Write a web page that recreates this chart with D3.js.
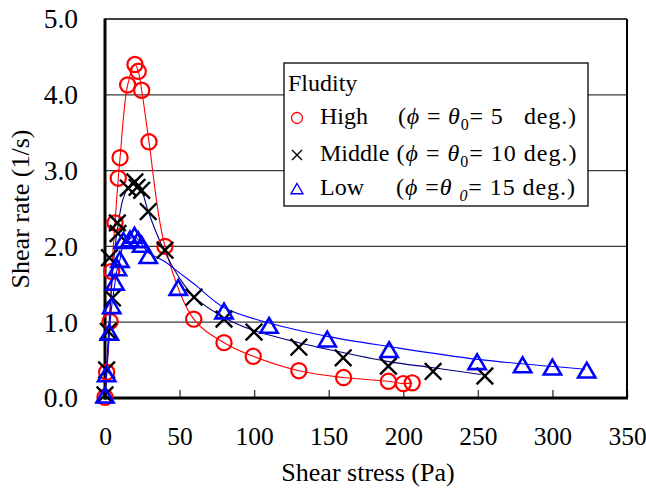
<!DOCTYPE html>
<html>
<head>
<meta charset="utf-8">
<script src="https://cdn.jsdelivr.net/npm/d3@7"></script>
<style>
  body{margin:0;background:#fff;}
  svg{display:block;}
  svg, svg text, svg tspan{font-family:'Times New Roman','Liberation Serif',Tinos,serif;}
  text{white-space:pre;}
</style>
</head>
<body>
<div id="chart"></div>
<script>
// ---- data ----
const highX = [0, 1.1, 3.4, 4.5, 6.7, 8.9, 10.1, 15.2, 20.1, 22.3, 24.6, 29.5, 40.2, 59.5, 79.8, 99.4, 130, 160, 190, 200, 206];
const highY = [0.01, 0.34, 1.01, 1.67, 2.31, 2.90, 3.17, 4.13, 4.40, 4.31, 4.06, 3.38, 2.00, 1.04, 0.73, 0.55, 0.36, 0.27, 0.22, 0.19, 0.20];

const midX = [0, 1.1, 2.2, 3.0, 5.0, 8.7, 8.3, 15.6, 20.0, 21.5, 24.6, 29.0, 40.2, 59.7, 79.8, 99.9, 130, 159.7, 190, 220, 254.7];
const midY = [0.04, 0.37, 0.88, 1.85, 1.32, 2.17, 2.31, 2.77, 2.85, 2.78, 2.74, 2.46, 1.95, 1.33, 1.04, 0.87, 0.67, 0.53, 0.42, 0.35, 0.29];

const lowX = [0, 1.1, 2.9, 4.5, 6.7, 8.3, 10, 12.3, 16.8, 19.8, 22.3, 24.6, 29, 49.1, 79.8, 110, 149, 190.5, 249.5, 280, 300, 323];
const lowY = [0.03, 0.31, 0.86, 1.21, 1.52, 1.71, 1.82, 2.07, 2.09, 2.14, 2.08, 2.02, 1.87, 1.45, 1.14, 0.95, 0.77, 0.63, 0.47, 0.43, 0.40, 0.36];

// drawn curves (they are not exactly through the markers)
const midFitX = [0, 1, 2.5, 4, 6, 8.5, 12, 15.6, 19, 22, 24.6, 29, 40, 50, 60, 80, 100, 130, 150, 190, 220, 252];
const midFitY = [0.0, 0.35, 0.92, 1.35, 1.85, 2.25, 2.62, 2.78, 2.85, 2.82, 2.74, 2.46, 1.93, 1.58, 1.33, 1.06, 0.89, 0.73, 0.64, 0.48, 0.40, 0.31];
const lowFitX = [0, 1.1, 2.9, 4.5, 6.7, 8.3, 10, 12.3, 16.8, 19.8, 24.6, 29, 40, 50, 60, 80, 110, 150, 190, 250, 322];
const lowFitY = [0.03, 0.31, 0.86, 1.21, 1.52, 1.71, 1.82, 2.02, 2.10, 2.13, 2.03, 1.92, 1.80, 1.65, 1.50, 1.19, 0.99, 0.81, 0.68, 0.51, 0.38];

const xTicks = [0, 50, 100, 150, 200, 250, 300, 350];
const yTicks = [0, 1, 2, 3, 4, 5];

const zip = (xs, ys) => xs.map((v, i) => [v, ys[i]]);

const W = 646, H = 498;
const svg = d3.select('#chart').append('svg').attr('width', W).attr('height', H);

const x = d3.scaleLinear().domain([0, 350]).range([105, 627]);
const y = d3.scaleLinear().domain([0, 5]).range([398, 19]);

// grid
svg.append('g').selectAll('line').data(yTicks.filter(d => d > 0 && d < 5)).join('line')
  .attr('x1', x(0)).attr('x2', x(350)).attr('y1', d => y(d)).attr('y2', d => y(d))
  .attr('stroke', '#3a3a3a').attr('stroke-width', 1.3);

// x axis ticks (inside) + labels
const gx = svg.append('g').attr('transform', `translate(0,${y(0)})`)
  .call(d3.axisBottom(x).tickValues(xTicks).tickSizeInner(-8).tickSizeOuter(0).tickPadding(29).tickFormat(d => d))
  .attr('font-family', null).attr('font-size', null);
gx.select('.domain').remove();
gx.selectAll('line').attr('stroke', '#444').attr('stroke-width', 1.4);
gx.selectAll('text').attr('font-size', 25.5).attr('fill', '#000');

const gy = svg.append('g').attr('transform', `translate(${x(0)},0)`)
  .call(d3.axisLeft(y).tickValues(yTicks).tickSize(0).tickPadding(27).tickFormat(d3.format('.1f')))
  .attr('font-family', null).attr('font-size', null);
gy.select('.domain').remove();
gy.selectAll('text').attr('font-size', 27.5).attr('fill', '#000');

// frame
svg.append('line').attr('x1', x(0)).attr('x2', x(350)).attr('y1', y(5)).attr('y2', y(5)).attr('stroke', '#000').attr('stroke-width', 1.3);
svg.append('line').attr('x1', x(350)).attr('x2', x(350)).attr('y1', y(5)).attr('y2', y(0)).attr('stroke', '#000').attr('stroke-width', 2);
svg.append('line').attr('x1', x(0)).attr('x2', x(0)).attr('y1', y(5) - 0.5).attr('y2', y(0) + 1.5).attr('stroke', '#000').attr('stroke-width', 3);
svg.append('line').attr('x1', x(0) - 1.5).attr('x2', x(350) + 1).attr('y1', y(0)).attr('y2', y(0)).attr('stroke', '#000').attr('stroke-width', 3);

// curves
const lineFn = d3.line().x(d => x(d[0])).y(d => y(d[1])).curve(d3.curveCatmullRom.alpha(0.5));
svg.append('path').datum(zip(highX, highY)).attr('d', lineFn).attr('fill', 'none').attr('stroke', '#ff0000').attr('stroke-width', 1.1);
svg.append('path').datum(zip(midFitX, midFitY)).attr('d', lineFn).attr('fill', 'none').attr('stroke', '#000080').attr('stroke-width', 1.1);
svg.append('path').datum(zip(lowFitX, lowFitY)).attr('d', lineFn).attr('fill', 'none').attr('stroke', '#0000ff').attr('stroke-width', 1.1);

// markers
const crossPath = s => `M${-s},${-s}L${s},${s}M${-s},${s}L${s},${-s}`;
const triPath = s => `M0,${-s}L${s * 1.08},${s * 0.85}L${-s * 1.08},${s * 0.85}Z`;

svg.append('g').selectAll('circle').data(zip(highX, highY)).join('circle')
  .attr('cx', d => x(d[0])).attr('cy', d => y(d[1])).attr('r', 7.6)
  .attr('fill', 'none').attr('stroke', '#ff0000').attr('stroke-width', 2.2);

svg.append('g').selectAll('path').data(zip(midX, midY)).join('path')
  .attr('transform', d => `translate(${x(d[0])},${y(d[1])})`).attr('d', crossPath(8.3))
  .attr('fill', 'none').attr('stroke', '#000').attr('stroke-width', 2.4);

svg.append('g').selectAll('path').data(zip(lowX, lowY)).join('path')
  .attr('transform', d => `translate(${x(d[0])},${y(d[1])})`).attr('d', triPath(8))
  .attr('fill', 'none').attr('stroke', '#0000ff').attr('stroke-width', 2.6).attr('stroke-linejoin', 'miter');

// axis titles
svg.append('text').attr('transform', 'translate(29,209) rotate(-90)').attr('text-anchor', 'middle')
  .attr('font-size', 26).text('Shear rate (1/s)');
svg.append('text').attr('x', 368).attr('y', 481).attr('text-anchor', 'middle')
  .attr('font-size', 26).text('Shear stress (Pa)');

// legend
const leg = svg.append('g');
leg.append('rect').attr('x', 284).attr('y', 63).attr('width', 304).attr('height', 143)
  .attr('fill', '#fff').attr('stroke', '#000').attr('stroke-width', 1.3);
leg.append('text').attr('x', 288).attr('y', 91).attr('font-size', 24).text('Fludity');

const legRows = [
  {name: 'High', y: 124, sym: 'circle', col: '#ff0000', mid: ' = ', subItalic: false, post: '= 5   deg.)', px: 398, len: 178, gap: ''},
  {name: 'Middle', y: 161, sym: 'cross', col: '#000', mid: ' = ', subItalic: false, post: '= 10 deg.)', px: 396.5, len: 180, gap: ''},
  {name: 'Low', y: 195, sym: 'tri', col: '#0000ff', mid: ' =', subItalic: true, post: '= 15 deg.)', px: 396, len: 179, gap: ' '}
];
legRows.forEach(r => {
  const cy = r.y - 6;
  if (r.sym === 'circle') leg.append('circle').attr('cx', 297).attr('cy', cy).attr('r', 5.5).attr('fill', 'none').attr('stroke', r.col).attr('stroke-width', 1.3);
  if (r.sym === 'cross') leg.append('path').attr('transform', `translate(297,${cy})`).attr('d', crossPath(5)).attr('stroke', r.col).attr('stroke-width', 1.4);
  if (r.sym === 'tri') leg.append('path').attr('transform', `translate(297,${cy})`).attr('d', triPath(5.5)).attr('fill', 'none').attr('stroke', r.col).attr('stroke-width', 1.4);
  leg.append('text').attr('x', 320).attr('y', r.y).attr('font-size', 24).text(r.name);
  const t = leg.append('text').attr('x', r.px).attr('y', r.y).attr('font-size', 24)
    .attr('textLength', r.len).attr('lengthAdjust', 'spacing');
  t.append('tspan').text('(');
  t.append('tspan').attr('font-style', 'italic').text('ϕ');
  t.append('tspan').text(r.mid);
  t.append('tspan').attr('font-style', 'italic').text('θ' + r.gap);
  t.append('tspan').attr('font-size', 16).attr('dy', 6).attr('font-style', r.subItalic ? 'italic' : null).text('0');
  t.append('tspan').attr('dy', -6).text(r.post);
});
</script>
</body>
</html>
